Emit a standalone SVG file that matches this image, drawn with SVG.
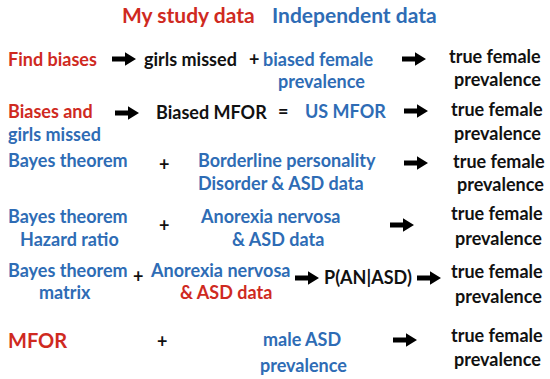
<svg xmlns="http://www.w3.org/2000/svg" width="550" height="379" viewBox="0 0 550 379">
<style>
text{font-family:Lato,"Liberation Sans",sans-serif;font-weight:bold;font-size:18px}
.r{fill:#cf2a1f}
.b{fill:#2e6cb5}
.k{fill:#111}
.t{font-size:21px}
.m{font-size:20px}
.ar{fill:#000}
</style>
<defs>
<path id="arr" d="M0,-2.6 H13 V-6.8 L24,0 L13,6.8 V2.6 H0 Z"/>
</defs>
<rect width="550" height="379" fill="#fff"/>
<g id="header">
<text class="r t" x="122" y="23">My study data</text>
<text class="b t" x="272" y="23">Independent data</text>
</g>
<g id="connectors">
<use href="#arr" class="ar" x="112" y="59"/>
<use href="#arr" class="ar" x="402" y="59"/>
<use href="#arr" class="ar" x="115" y="113"/>
<use href="#arr" class="ar" x="404" y="111"/>
<use href="#arr" class="ar" x="404" y="163"/>
<use href="#arr" class="ar" x="390" y="225"/>
<use href="#arr" class="ar" x="295" y="278"/>
<use href="#arr" class="ar" x="417" y="278"/>
<use href="#arr" class="ar" x="393" y="340"/>
</g>
<g id="row1">
<text class="r" x="8" y="66">Find biases</text>
<text class="k" x="144" y="66">girls missed</text>
<text class="k" x="249" y="66">+</text>
<text class="b" x="263" y="66">biased female</text>
<text class="b" x="278" y="88">prevalence</text>
<text class="k" x="449" y="63">true female</text>
<text class="k" x="454" y="86">prevalence</text>
</g>
<g id="row2">
<text class="r" x="8" y="118">Biases and</text>
<text class="b" x="8" y="141">girls missed</text>
<text class="k" x="156" y="119">Biased MFOR</text>
<text class="k" x="278" y="118">=</text>
<text class="b" x="305" y="118">US MFOR</text>
<text class="k" x="451" y="116">true female</text>
<text class="k" x="454" y="140">prevalence</text>
</g>
<g id="row3">
<text class="b" x="8" y="167">Bayes theorem</text>
<text class="k" x="159" y="171">+</text>
<text class="b" x="198" y="167">Borderline personality</text>
<text class="b" x="198" y="190">Disorder &amp; ASD data</text>
<text class="k" x="453" y="168">true female</text>
<text class="k" x="457" y="191">prevalence</text>
</g>
<g id="row4">
<text class="b" x="8" y="223">Bayes theorem</text>
<text class="b" x="20" y="246">Hazard ratio</text>
<text class="k" x="159" y="232">+</text>
<text class="b" x="201" y="223">Anorexia nervosa</text>
<text class="b" x="232" y="246">&amp; ASD data</text>
<text class="k" x="451" y="220">true female</text>
<text class="k" x="455" y="245">prevalence</text>
</g>
<g id="row5">
<text class="b" x="8" y="277">Bayes theorem</text>
<text class="b" x="39" y="299">matrix</text>
<text class="k" x="133" y="283">+</text>
<text class="b" x="151" y="277">Anorexia nervosa</text>
<text class="r" x="180" y="299">&amp; ASD data</text>
<text class="k" x="324" y="284">P(AN|ASD)</text>
<text class="k" x="451" y="278">true female</text>
<text class="k" x="455" y="303">prevalence</text>
</g>
<g id="row6">
<text class="r m" x="8" y="348">MFOR</text>
<text class="k" x="157" y="348">+</text>
<text class="b" x="263" y="346">male ASD</text>
<text class="b" x="260" y="372">prevalence</text>
<text class="k" x="451" y="342">true female</text>
<text class="k" x="454" y="366">prevalence</text>
</g>
</svg>
